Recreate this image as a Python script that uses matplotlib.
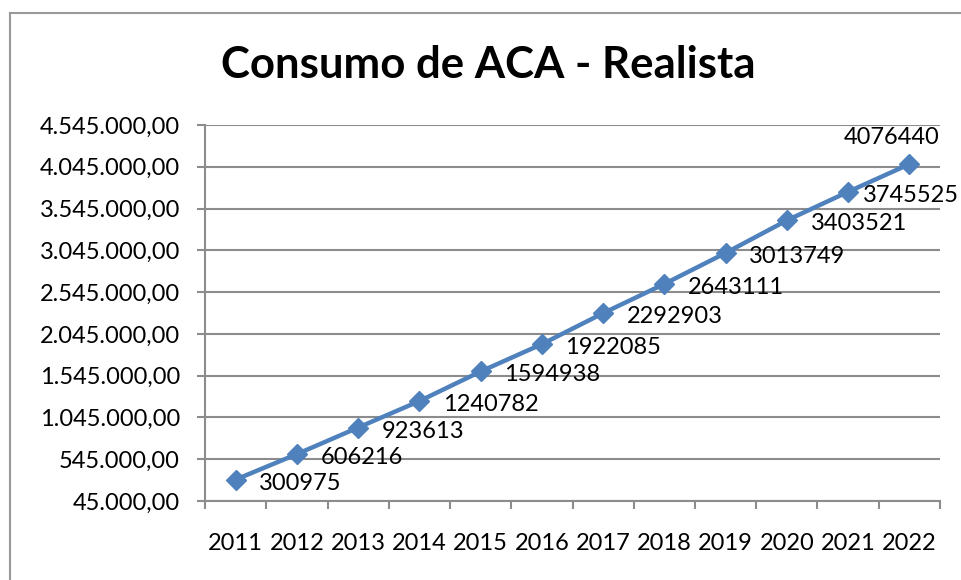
import matplotlib.pyplot as plt
from matplotlib.ticker import FuncFormatter, FixedLocator
from matplotlib.lines import Line2D

anos = ['2011', '2012', '2013', '2014', '2015', '2016', '2017', '2018', '2019', '2020', '2021', '2022']
consumo = [300975, 606216, 923613, 1240782, 1594938, 1922085, 2292903, 2643111,
           3013749, 3403521, 3745525, 4076440]
yticks = [45000 + 500000 * i for i in range(10)]

plt.rcParams['font.family'] = ['Lato', 'DejaVu Sans']
azul = '#4F81BD'
cinza = '#8C8C8C'
fs = 17

fig = plt.figure(figsize=(9.62, 5.8), dpi=100)
ax = fig.add_axes([205/962, 1 - 501/580, 735/962, 376/580])

x = list(range(len(anos)))
ax.plot(x, consumo, color=azul, lw=3.2, marker='D', ms=10, zorder=3, clip_on=False)

# rotulos dos pontos (os dois ultimos ajustados p/ caber, como no excel)
n = len(consumo)
for i, v in enumerate(consumo):
    if i == n - 1:
        ax.annotate(str(v), (i, v), xytext=(-13, 19), textcoords='offset points',
                    ha='center', va='center', fontsize=fs)
    else:
        dx = 11 if i == n - 2 else 17
        ax.annotate(str(v), (i, v), xytext=(dx, -2.5), textcoords='offset points',
                    ha='left', va='center', fontsize=fs)

def fmt(v, pos):
    s = f"{v:,.2f}"
    return s.replace(',', 'X').replace('.', ',').replace('X', '.')

ax.set_ylim(45000, 4545000)
ax.set_yticks(yticks)
ax.yaxis.set_major_formatter(FuncFormatter(fmt))
ax.set_xlim(-0.5, len(anos) - 0.5)
ax.set_xticks(x)
ax.set_xticklabels(anos)
ax.xaxis.set_minor_locator(FixedLocator([i - 0.5 for i in range(len(anos) + 1)]))
ax.tick_params(axis='x', which='major', length=0, pad=23, labelsize=fs)
ax.tick_params(axis='x', which='minor', length=6, width=1.5, color=cinza)
ax.tick_params(axis='y', length=6, width=1.5, color=cinza, labelsize=fs, pad=12)

ax.grid(axis='y', color=cinza, lw=1.5)
ax.set_axisbelow(True)
for s in ['top', 'right']:
    ax.spines[s].set_visible(False)
for s in ['left', 'bottom']:
    ax.spines[s].set_color(cinza)
    ax.spines[s].set_linewidth(1.5)

fig.text(488/962, 1 - 65/580, 'Consumo de ACA - Realista', ha='center', va='center',
         fontsize=31.5, fontweight='bold')

# moldura do grafico
fig.add_artist(Line2D([10/962, 10/962], [0, 1 - 13/580], color='#999999', lw=1.5))
fig.add_artist(Line2D([10/962, 1], [1 - 13/580, 1 - 13/580], color='#999999', lw=1.5))

fig.savefig('out.png', dpi=100)
